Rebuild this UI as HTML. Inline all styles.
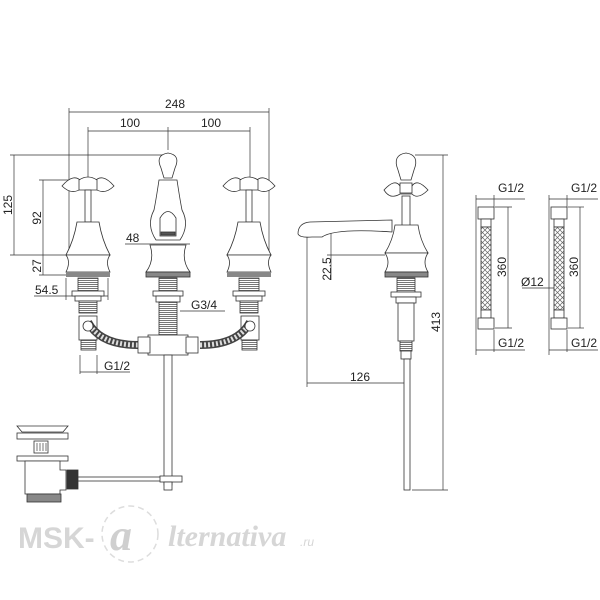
<!DOCTYPE html>
<html><head><style>
html,body{margin:0;padding:0;background:#fff;width:600px;height:600px;overflow:hidden}
text{font-family:"Liberation Sans",Arial,sans-serif;font-size:12px;fill:#222}
</style></head><body>
<svg width="600" height="600" viewBox="0 0 600 600" xmlns="http://www.w3.org/2000/svg">
<defs>
<pattern id="thr" width="4" height="2" patternUnits="userSpaceOnUse"><rect width="4" height="2" fill="#fff"/><rect width="4" height="1" fill="#777"/></pattern>
<pattern id="braid" width="5" height="5" patternUnits="userSpaceOnUse"><rect width="5" height="5" fill="#fff"/><path d="M0 0L5 5M5 0L0 5" stroke="#666" stroke-width="0.7"/></pattern>
<g id="tap">
<path d="M-26 186 Q-14 172 -6 182 L6 182 Q14 172 26 186 Q16 196 6 188 L-6 188 Q-16 196 -26 186Z" fill="#fff" stroke="#333" stroke-width="0.8"/>
<path d="M-9 180 Q0 174 9 180 L9 190 L-9 190Z" fill="#fff" stroke="#333" stroke-width="0.8"/>
<rect x="-3" y="190" width="6" height="32" fill="#fff" stroke="#333" stroke-width="0.8"/>
<path d="M-11 222 L11 222 Q14 240 22 255 L-22 255 Q-14 240 -11 222Z" fill="#fff" stroke="#333" stroke-width="0.8"/>
<path d="M-22 255 L22 255 Q17 262 22 272 L-22 272 Q-17 262 -22 255Z" fill="#fff" stroke="#333" stroke-width="0.8"/>
<rect x="-22" y="272" width="44" height="5" fill="#888"/>
<rect x="-10" y="278" width="20" height="13" fill="url(#thr)" stroke="#333" stroke-width="0.8"/>
<rect x="-16" y="291" width="32" height="5" fill="#fff" stroke="#333" stroke-width="0.8"/>
<rect x="-13" y="296" width="26" height="5" fill="#fff" stroke="#333" stroke-width="0.8"/>
<rect x="-9" y="301" width="18" height="12" fill="url(#thr)" stroke="#333" stroke-width="0.8"/>
</g>
</defs>
<g stroke="#333" stroke-width="0.7" fill="none">
<line x1="69" y1="112" x2="269" y2="112"/><line x1="69" y1="108" x2="69" y2="255"/><line x1="269" y1="108" x2="269" y2="255"/>
<line x1="88" y1="131" x2="250" y2="131"/><line x1="88" y1="127" x2="88" y2="178"/><line x1="250" y1="127" x2="250" y2="178"/><line x1="168" y1="127" x2="168" y2="150"/>
<line x1="14" y1="155" x2="14" y2="255"/><line x1="10" y1="155" x2="165" y2="155"/><line x1="10" y1="255" x2="68" y2="255"/>
<line x1="43" y1="180" x2="43" y2="275"/><line x1="39" y1="180" x2="80" y2="180"/><line x1="39" y1="275" x2="68" y2="275"/>
<line x1="34" y1="296" x2="108" y2="296"/><line x1="66" y1="278" x2="66" y2="300"/><line x1="108" y1="278" x2="108" y2="300"/>
<line x1="125" y1="244" x2="190" y2="244"/>
<line x1="180" y1="311" x2="225" y2="311"/>
<line x1="80" y1="355" x2="80" y2="374"/><line x1="97" y1="355" x2="97" y2="374"/><line x1="80" y1="372" x2="130" y2="372"/>
<line x1="443" y1="155" x2="443" y2="490"/><line x1="415" y1="155" x2="448" y2="155"/><line x1="412" y1="490" x2="448" y2="490"/>
<line x1="307" y1="383" x2="408" y2="383"/><line x1="307" y1="235" x2="307" y2="387"/>
<line x1="331" y1="232" x2="331" y2="280"/><line x1="327" y1="255" x2="385" y2="255"/>
<line x1="476" y1="195" x2="476" y2="355"/><line x1="494" y1="195" x2="494" y2="208"/><line x1="476" y1="199" x2="525" y2="199"/>
<line x1="508" y1="207" x2="508" y2="328"/><line x1="495" y1="207" x2="512" y2="207"/><line x1="495" y1="328" x2="512" y2="328"/>
<line x1="494" y1="330" x2="494" y2="352"/><line x1="476" y1="350" x2="525" y2="350"/>
<line x1="549" y1="195" x2="549" y2="355"/><line x1="567" y1="195" x2="567" y2="208"/><line x1="549" y1="199" x2="598" y2="199"/>
<line x1="580" y1="207" x2="580" y2="328"/><line x1="568" y1="207" x2="584" y2="207"/><line x1="568" y1="328" x2="584" y2="328"/>
<line x1="567" y1="330" x2="567" y2="352"/><line x1="549" y1="350" x2="598" y2="350"/>
<line x1="522" y1="288" x2="565" y2="288"/>
</g>
<use href="#tap" x="88" y="0"/><use href="#tap" x="249" y="0"/>
<g stroke="#333" stroke-width="0.8" fill="#fff">
<rect x="79" y="316" width="18" height="24"/><rect x="81" y="340" width="15" height="10" fill="url(#thr)"/>
<rect x="241" y="316" width="18" height="24"/><rect x="242" y="340" width="15" height="10" fill="url(#thr)"/>
<path d="M88 322 Q100 345 138 345" stroke="#444" stroke-width="8" fill="none"/>
<path d="M88 322 Q100 345 138 345" stroke="#ddd" stroke-width="5" fill="none" stroke-dasharray="2 2"/>
<path d="M250 322 Q238 345 200 345" stroke="#444" stroke-width="8" fill="none"/>
<path d="M250 322 Q238 345 200 345" stroke="#ddd" stroke-width="5" fill="none" stroke-dasharray="2 2"/>
<circle cx="88" cy="326" r="5"/><circle cx="250" cy="326" r="5"/>
<path d="M161 168 Q155 155 168 153 Q181 155 175 168 L172 178 L164 178Z"/>
<path d="M159 180 L177 180 Q180 200 182 210 Q190 225 180 240 L156 240 Q146 225 154 210 Q156 200 159 180Z"/>
<path d="M160 218 Q168 205 176 218 L176 236 L160 236Z"/>
<rect x="161" y="232" width="14" height="3" fill="#555"/>
<path d="M150 245 L186 245 Q181 260 190 272 L146 272 Q155 260 150 245Z"/>
<rect x="146" y="272" width="44" height="5" fill="#888"/>
<rect x="159" y="278" width="18" height="13" fill="url(#thr)"/>
<rect x="153" y="291" width="30" height="5"/><rect x="156" y="296" width="24" height="6"/>
<rect x="159" y="302" width="18" height="34" fill="url(#thr)"/>
<rect x="148" y="335" width="40" height="20"/>
<rect x="138" y="337" width="12" height="16"/><rect x="186" y="337" width="12" height="16"/>
<rect x="164" y="355" width="8" height="130"/>
<path d="M17 426 L68 426 L63 432 L22 432Z"/>
<rect x="17" y="433" width="51" height="6"/>
<rect x="34" y="441" width="14" height="12"/>
<path d="M37 443 v8 M40 443 v8 M43 443 v8 M46 443 v8" stroke="#555"/>
<rect x="17" y="456" width="51" height="5"/>
<path d="M25 461 L60 461 L60 470 L66 470 L66 490 L60 490 L60 494 L25 494Z"/>
<rect x="27" y="494" width="34" height="8" fill="#888"/>
<rect x="67" y="470" width="11" height="19" fill="#333"/>
<rect x="78" y="477" width="86" height="4"/>
<rect x="160" y="476" width="22" height="6"/><rect x="164" y="482" width="8" height="8"/>
<path d="M398 170 Q392 155 406 153 Q420 155 414 170 L411 180 L401 180Z"/>
<path d="M384 190 Q395 178 400 186 L412 186 Q417 178 428 190 Q418 200 412 194 L400 194 Q390 200 384 190Z"/>
<rect x="400" y="183" width="12" height="10"/>
<path d="M298 234 Q298 223 310 222 L392 220 L392 232 Q335 228 322 237 L312 237 Q300 238 298 234Z"/>
<rect x="402" y="196" width="8" height="30"/>
<path d="M395 225 L418 225 Q420 240 428 253 L385 253 Q393 240 395 225Z"/>
<path d="M385 253 L428 253 Q422 262 428 272 L385 272 Q391 262 385 253Z"/>
<rect x="385" y="272" width="43" height="5" fill="#888"/>
<rect x="397" y="278" width="18" height="14" fill="url(#thr)"/>
<rect x="391" y="292" width="30" height="5"/><rect x="396" y="297" width="20" height="6"/>
<rect x="398" y="303" width="16" height="38"/>
<rect x="400" y="341" width="12" height="10" fill="url(#thr)"/>
<rect x="401" y="351" width="10" height="8"/>
<rect x="404" y="359" width="6" height="131"/>
<rect x="478" y="207" width="16" height="12"/><rect x="481" y="219" width="10" height="8"/>
<rect x="481" y="227" width="10" height="83" fill="url(#braid)"/>
<rect x="481" y="310" width="10" height="8"/><rect x="478" y="318" width="16" height="11"/>
<rect x="551" y="207" width="16" height="12"/><rect x="554" y="219" width="10" height="8"/>
<rect x="554" y="227" width="10" height="83" fill="url(#braid)"/>
<rect x="554" y="310" width="10" height="8"/><rect x="551" y="318" width="16" height="11"/>
</g>
<text x="175" y="108" text-anchor="middle">248</text>
<text x="130" y="127" text-anchor="middle">100</text>
<text x="211" y="127" text-anchor="middle">100</text>
<text transform="translate(12,205) rotate(-90)" text-anchor="middle">125</text>
<text transform="translate(41,218) rotate(-90)" text-anchor="middle">92</text>
<text transform="translate(41,266) rotate(-90)" text-anchor="middle">27</text>
<text x="35" y="294">54.5</text>
<text x="126" y="242">48</text>
<text x="191" y="309">G3/4</text>
<text x="104" y="370">G1/2</text>
<text transform="translate(331,269) rotate(-90)" text-anchor="middle">22.5</text>
<text transform="translate(440,322) rotate(-90)" text-anchor="middle">413</text>
<text x="350" y="381">126</text>
<text x="498" y="192">G1/2</text>
<text x="571" y="192">G1/2</text>
<text x="498" y="347">G1/2</text>
<text x="571" y="347">G1/2</text>
<text transform="translate(506,267) rotate(-90)" text-anchor="middle">360</text>
<text transform="translate(578,267) rotate(-90)" text-anchor="middle">360</text>
<text x="521" y="286">Ø12</text>
<text x="18" y="548" style="font-size:30px;font-weight:bold;fill:#d6d6d6">MSK-</text>
<circle cx="130" cy="534" r="28" fill="none" stroke="#ddd" stroke-width="1.5" stroke-dasharray="6 4"/>
<text x="110" y="550" style="font-size:44px;font-weight:bold;font-style:italic;font-family:'Liberation Serif',serif;fill:#cfcfcf">a</text>
<text x="168" y="546" style="font-size:30px;font-weight:bold;font-style:italic;font-family:'Liberation Serif',serif;fill:#d6d6d6">lternativa</text>
<text x="300" y="546" style="font-size:12px;font-style:italic;fill:#d6d6d6">.ru</text>
</svg>
</body></html>
